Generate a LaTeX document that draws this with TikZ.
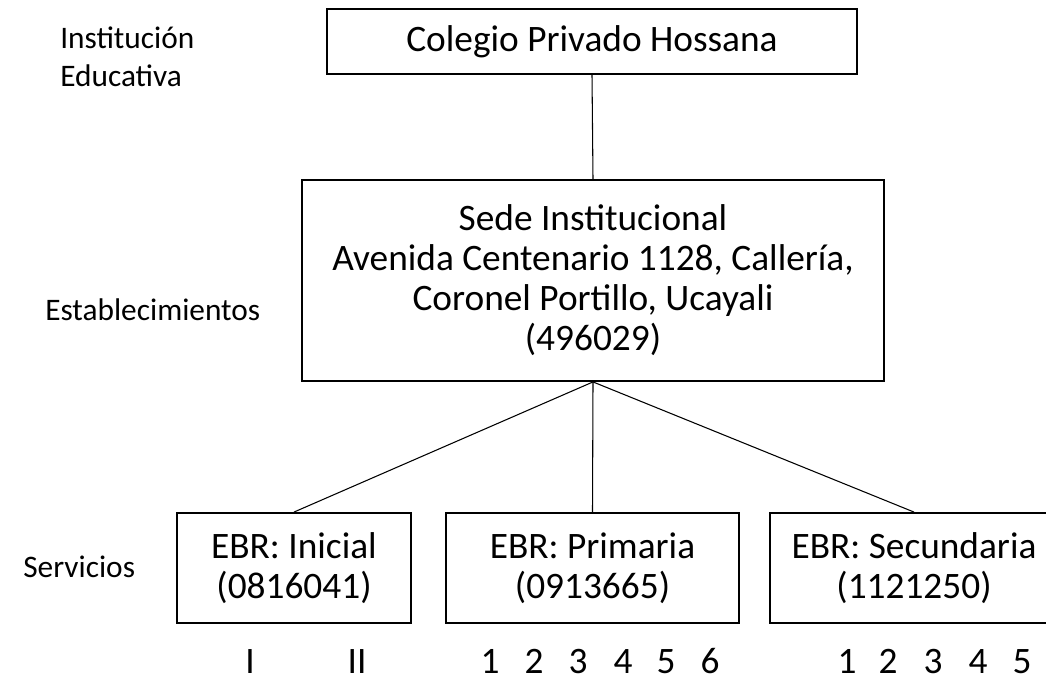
\documentclass[tikz,border=0pt]{standalone}
\usepackage{fontspec}
\setmainfont{Carlito}
\begin{document}
\begin{tikzpicture}[x=0.75pt,y=-0.75pt,
  box/.style={draw,line width=1.4pt,inner sep=0pt,align=center,font=\fontsize{28}{30}\selectfont},
  lbl/.style={inner sep=0pt,align=left,anchor=base west,font=\fontsize{23.5}{28.5}\selectfont},
  num/.style={inner sep=0pt,anchor=base,font=\fontsize{28}{30}\selectfont},
  link/.style={line width=0.8pt}]
\useasboundingbox (0,0) rectangle (1046,681);
\node[box,minimum width=397.5pt,minimum height=48.75pt] (top) at (592,41.5) {Colegio Privado Hossana};
\node[box,minimum width=436.5pt,minimum height=150.75pt] (mid) at (593,280.5)
  {Sede Institucional\\Avenida Centenario 1128, Callería,\\Coronel Portillo, Ucayali\\(496029)};
\node[box,minimum width=175.5pt,minimum height=82.5pt] (ini) at (294,568) {EBR: Inicial\\(0816041)};
\node[box,minimum width=219.75pt,minimum height=82.5pt] (pri) at (592.5,568) {EBR: Primaria\\(0913665)};
\node[box,minimum width=216pt,minimum height=82.5pt] (sec) at (914,568) {EBR: Secundaria\\(1121250)};
\draw[link] (top.south) -- (mid.north);
\draw[link] (mid.south) -- (ini.north);
\draw[link] (mid.south) -- (pri.north);
\draw[link] (mid.south) -- (sec.north);
\node[lbl] (l1) at (60,87) {Institución\\Educativa};
\node[lbl] (l2) at (45,320) {Establecimientos};
\node[lbl] (l3) at (23,577) {Servicios};
\node[num] (i1) at (250,673) {I};
\node[num] (i2) at (357,673) {II};
\node[num] (p1) at (490,673) {1};
\node[num] (p2) at (534,673) {2};
\node[num] (p3) at (578,673) {3};
\node[num] (p4) at (623,673) {4};
\node[num] (p5) at (666,673) {5};
\node[num] (p6) at (710,673) {6};
\node[num] (s1) at (847,673) {1};
\node[num] (s2) at (888,673) {2};
\node[num] (s3) at (933,673) {3};
\node[num] (s4) at (978,673) {4};
\node[num] (s5) at (1022,673) {5};
\end{tikzpicture}
\end{document}
